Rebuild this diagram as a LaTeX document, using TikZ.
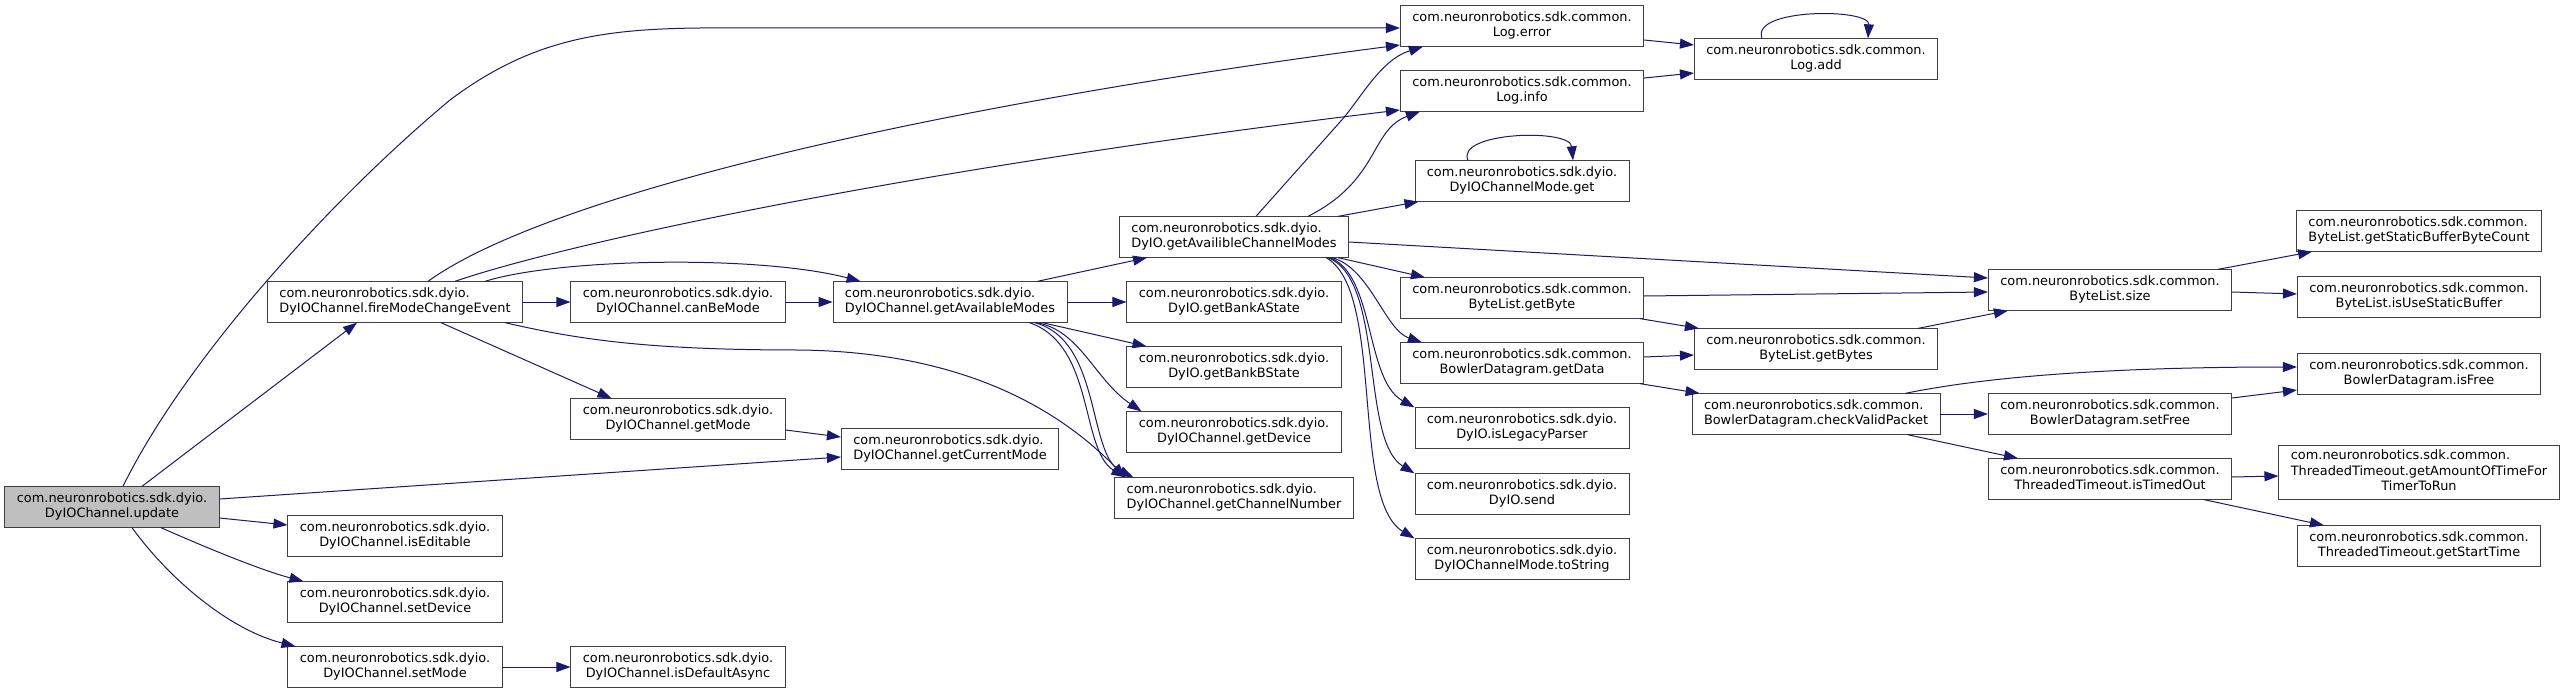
\documentclass[tikz,border=0pt]{standalone}
\usepackage{fontspec}
\setmainfont{DejaVu Sans}
\usetikzlibrary{arrows.meta}
\definecolor{edgeblue}{HTML}{191970}
\newcommand{\fnfont}{\fontsize{12.9}{15.3}\selectfont}
\newcommand{\fnlbl}[2]{\begin{tabular}{@{}l@{}}#1\\\multicolumn{1}{@{}c@{}}{#2}\end{tabular}}
\newcommand{\pkgdyio}{com.neuronrobotics.sdk.dyio.}
\newcommand{\pkgcommon}{com.neuronrobotics.sdk.common.}
\tikzset{
    fn/.style={draw=black!75, line width=0.8pt, fill=white, inner xsep=12pt, inner ysep=4pt, minimum height=40.5pt, font=\fnfont},
    root/.style={fn, fill=black!25},
    call/.style={-{Triangle[length=14pt,width=10pt]}, edgeblue, line width=1pt}
}
\begin{document}
\begin{tikzpicture}[x=1pt, y=-1pt]
    \useasboundingbox[fill=white] (0,0) rectangle (2565,693);
    % caller and the DyIOChannel methods
    \node[root] (upd) at (112,507) {\fnlbl{\pkgdyio}{DyIOChannel.update}};
    \node[fn] (fire) at (395,302) {\fnlbl{\pkgdyio}{DyIOChannel.fireModeChangeEvent}};
    \node[fn] (editable) at (395,536) {\fnlbl{\pkgdyio}{DyIOChannel.isEditable}};
    \node[fn] (setdev) at (395,602) {\fnlbl{\pkgdyio}{DyIOChannel.setDevice}};
    \node[fn] (setmode) at (395,667) {\fnlbl{\pkgdyio}{DyIOChannel.setMode}};
    \node[fn] (canbe) at (678,302) {\fnlbl{\pkgdyio}{DyIOChannel.canBeMode}};
    \node[fn] (getmode) at (678,419) {\fnlbl{\pkgdyio}{DyIOChannel.getMode}};
    \node[fn] (defasync) at (678,667) {\fnlbl{\pkgdyio}{DyIOChannel.isDefaultAsync}};
    \node[fn] (availmodes) at (950,302) {\fnlbl{\pkgdyio}{DyIOChannel.getAvailableModes}};
    \node[fn] (curmode) at (950,449) {\fnlbl{\pkgdyio}{DyIOChannel.getCurrentMode}};
    \node[fn] (chanmodes) at (1234,237) {\fnlbl{\pkgdyio}{DyIO.getAvailibleChannelModes}};
    \node[fn] (banka) at (1234,302) {\fnlbl{\pkgdyio}{DyIO.getBankAState}};
    \node[fn] (bankb) at (1234,367) {\fnlbl{\pkgdyio}{DyIO.getBankBState}};
    \node[fn] (getdev) at (1234,432) {\fnlbl{\pkgdyio}{DyIOChannel.getDevice}};
    \node[fn] (channum) at (1234,498) {\fnlbl{\pkgdyio}{DyIOChannel.getChannelNumber}};
    % common and dyio helpers
    \node[fn] (logerr) at (1522,26) {\fnlbl{\pkgcommon}{Log.error}};
    \node[fn] (loginfo) at (1522,91) {\fnlbl{\pkgcommon}{Log.info}};
    \node[fn] (modeget) at (1522,181) {\fnlbl{\pkgdyio}{DyIOChannelMode.get}};
    \node[fn] (getbyte) at (1522,298) {\fnlbl{\pkgcommon}{ByteList.getByte}};
    \node[fn] (getdata) at (1522,363) {\fnlbl{\pkgcommon}{BowlerDatagram.getData}};
    \node[fn] (legacy) at (1522,428) {\fnlbl{\pkgdyio}{DyIO.isLegacyParser}};
    \node[fn] (send) at (1522,494) {\fnlbl{\pkgdyio}{DyIO.send}};
    \node[fn] (tostr) at (1522,559) {\fnlbl{\pkgdyio}{DyIOChannelMode.toString}};
    \node[fn] (logadd) at (1816,59) {\fnlbl{\pkgcommon}{Log.add}};
    \node[fn] (getbytes) at (1816,349) {\fnlbl{\pkgcommon}{ByteList.getBytes}};
    \node[fn] (checkpkt) at (1816,414) {\fnlbl{\pkgcommon}{BowlerDatagram.checkValidPacket}};
    \node[fn] (blsize) at (2110,290) {\fnlbl{\pkgcommon}{ByteList.size}};
    \node[fn] (setfree) at (2110,414) {\fnlbl{\pkgcommon}{BowlerDatagram.setFree}};
    \node[fn] (timedout) at (2110,479) {\fnlbl{\pkgcommon}{ThreadedTimeout.isTimedOut}};
    \node[fn] (staticcount) at (2419,231) {\fnlbl{\pkgcommon}{ByteList.getStaticBufferByteCount}};
    \node[fn] (usestatic) at (2419,297) {\fnlbl{\pkgcommon}{ByteList.isUseStaticBuffer}};
    \node[fn] (isfree) at (2419,374) {\fnlbl{\pkgcommon}{BowlerDatagram.isFree}};
    \node[fn] (amounttime) at (2419,472) {\begin{tabular}{@{}l@{}}\pkgcommon\\ThreadedTimeout.getAmountOfTimeFor\\\multicolumn{1}{@{}c@{}}{TimerToRun}\end{tabular}};
    \node[fn] (starttime) at (2419,546) {\fnlbl{\pkgcommon}{ThreadedTimeout.getStartTime}};

    % calls out of update
    \draw[call] ([xshift=11pt]upd.north) .. controls (185,360) and (330,200) .. (450,100) .. controls (530,40) and (600,29) .. (700,28) -- ([yshift=-2pt]logerr.west);
    \draw[call] ([xshift=30pt]upd.north) -- ([xshift=-38pt]fire.south);
    \draw[call] ([yshift=8pt]upd.east) -- ([yshift=-8pt]curmode.west);
    \draw[call] ([yshift=-11pt]upd.east) -- ([yshift=11pt]editable.west);
    \draw[call] ([xshift=49pt]upd.south) .. controls (200,545) and (260,570) .. ([xshift=16pt]setdev.north west);
    \draw[call] ([xshift=20pt]upd.south) .. controls (170,580) and (230,630) .. ([xshift=8pt]setmode.north west);
    % fireModeChangeEvent
    \draw[call] ([xshift=33pt]fire.north) .. controls (540,200) and (900,110) .. ([yshift=-19pt]logerr.west);
    \draw[call] ([xshift=60pt]fire.north) .. controls (560,245) and (900,170) .. ([yshift=-19pt]loginfo.west);
    \draw[call] ([xshift=-38pt]fire.north east) .. controls (560,258) and (760,255) .. ([xshift=28pt]availmodes.north west);
    \draw[call] (fire) -- (canbe);
    \draw[call] ([xshift=46pt]fire.south) -- ([xshift=41pt]getmode.north west);
    \draw[call] ([xshift=-18pt]fire.south east) .. controls (580,340) and (650,350) .. (800,350) .. controls (950,352) and (1050,400) .. ([xshift=11pt]channum.north west);
    \draw[call] (canbe) -- (availmodes);
    \draw[call] ([yshift=-11pt]getmode.east) -- ([yshift=12pt]curmode.west);
    \draw[call] (setmode) -- (defasync);
    % getAvailableModes
    \draw[call] ([xshift=-30pt]availmodes.north east) -- ([xshift=28pt]chanmodes.south west);
    \draw[call] (availmodes) -- (banka);
    \draw[call] ([xshift=-25pt]availmodes.south east) -- ([xshift=20pt]bankb.north west);
    \draw[call] ([xshift=-31pt]availmodes.south east) .. controls (1080,330) and (1095,380) .. ([xshift=15pt]getdev.north west);
    \draw[call] ([xshift=-38pt]availmodes.south east) .. controls (1095,345) and (1080,450) .. ([xshift=11pt]channum.north west);
    \draw[call] ([xshift=-33pt]availmodes.south east) .. controls (1102,340) and (1087,455) .. ([xshift=19pt]channum.north west);
    % getAvailibleChannelModes
    \draw[call] ([xshift=22pt]chanmodes.north) -- (1340,122) .. controls (1360,100) and (1380,60) .. ([xshift=23pt]logerr.south west);
    \draw[call] ([xshift=74pt]chanmodes.north) .. controls (1380,180) and (1370,130) .. ([xshift=20pt]loginfo.south west);
    \draw[call] ([xshift=-11pt]chanmodes.north east) -- ([xshift=4pt]modeget.south west);
    \draw[call] ([yshift=-5pt]chanmodes.east) -- ([yshift=12pt]blsize.west);
    \draw[call] ([xshift=-11pt]chanmodes.south east) -- ([xshift=25pt]getbyte.north west);
    \draw[call] ([xshift=-17pt]chanmodes.south east) .. controls (1370,268) and (1385,330) .. ([xshift=22pt]getdata.north west);
    \draw[call] ([xshift=-19pt]chanmodes.south east) .. controls (1375,275) and (1365,380) .. (legacy.north west);
    \draw[call] ([xshift=-21pt]chanmodes.south east) .. controls (1385,280) and (1360,440) .. (send.north west);
    \draw[call] ([xshift=-23pt]chanmodes.south east) .. controls (1385,290) and (1350,500) .. (tostr.north west);
    % logging
    \draw[call] ([yshift=-14pt]logerr.east) -- ([yshift=14pt]logadd.west);
    \draw[call] ([yshift=13pt]loginfo.east) -- ([yshift=-14pt]logadd.west);
    \draw[call] ([xshift=-54pt]logadd.north) .. controls (1750,8) and (1870,8) .. ([xshift=52pt]logadd.north);
    \draw[call] ([xshift=-54pt]modeget.north) .. controls (1455,132) and (1570,128) .. ([xshift=51pt]modeget.north);
    % byte lists and datagrams
    \draw[call] ([yshift=2pt]getbyte.east) -- ([yshift=-2pt]blsize.west);
    \draw[call] ([xshift=-4pt]getbyte.south east) -- ([xshift=5pt]getbytes.north west);
    \draw[call] ([yshift=6pt]getdata.east) -- ([yshift=-6pt]getbytes.west);
    \draw[call] ([xshift=-4pt]getdata.south east) -- ([xshift=8pt]checkpkt.north west);
    \draw[call] ([xshift=-20pt]getbytes.north east) -- ([xshift=20pt]blsize.south west);
    \draw[call] ([xshift=-35pt]checkpkt.north east) .. controls (1980,378) and (2100,367) .. ([yshift=7pt]isfree.west);
    \draw[call] (checkpkt) -- (setfree);
    \draw[call] ([xshift=-33pt]checkpkt.south east) -- ([xshift=30pt]timedout.north west);
    \draw[call] ([xshift=-14pt]blsize.north east) -- ([xshift=16pt]staticcount.south west);
    \draw[call] ([yshift=-2pt]blsize.east) -- ([yshift=3pt]usestatic.west);
    \draw[call] ([yshift=16pt]setfree.east) -- ([yshift=-16pt]isfree.west);
    \draw[call] ([yshift=2pt]timedout.east) -- ([yshift=-4pt]amounttime.west);
    \draw[call] ([xshift=-28pt]timedout.south east) -- ([xshift=27pt]starttime.north west);
\end{tikzpicture}
\end{document}
